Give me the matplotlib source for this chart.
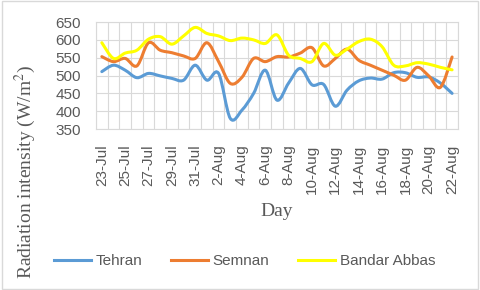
import matplotlib.pyplot as plt
import numpy as np
from matplotlib.lines import Line2D
from matplotlib.patches import PathPatch, Rectangle
from matplotlib.path import Path

days = ["23-Jul", "24-Jul", "25-Jul", "26-Jul", "27-Jul", "28-Jul", "29-Jul", "30-Jul",
        "31-Jul", "1-Aug", "2-Aug", "3-Aug", "4-Aug", "5-Aug", "6-Aug", "7-Aug",
        "8-Aug", "9-Aug", "10-Aug", "11-Aug", "12-Aug", "13-Aug", "14-Aug", "15-Aug",
        "16-Aug", "17-Aug", "18-Aug", "19-Aug", "20-Aug", "21-Aug", "22-Aug"]

tehran = [511, 529, 515, 494, 506, 499, 492, 487, 529, 487, 506, 380, 403, 450, 515, 431,
          479, 520, 474, 475, 414, 459, 485, 493, 490, 508, 508, 495, 496, 479, 450]
semnan = [553, 539, 548, 527, 592, 571, 564, 555, 548, 592, 539, 478, 495, 548, 539, 553,
          552, 563, 578, 527, 548, 574, 543, 529, 515, 501, 487, 523, 499, 467, 552]
bandar_abbas = [592, 548, 563, 571, 602, 609, 588, 611, 635, 618, 611, 598, 605, 600, 590, 614,
                557, 548, 539, 590, 557, 574, 595, 602, 581, 529, 527, 536, 532, 523, 516]

series = [("Tehran", tehran, "#5B9BD5"),
          ("Semnan", semnan, "#ED7D31"),
          ("Bandar Abbas", bandar_abbas, "#FFFF00")]

GRAY = "#595959"
GRID = "#d9d9d9"


def smooth_path(x, y):
    # Catmull-Rom through the points, written as cubic Bezier segments
    pts = np.column_stack([x, y]).astype(float)
    padded = np.vstack([pts[0], pts, pts[-1]])
    verts = [pts[0]]
    codes = [Path.MOVETO]
    for i in range(len(pts) - 1):
        p0, p1, p2, p3 = padded[i], padded[i + 1], padded[i + 2], padded[i + 3]
        verts += [p1 + (p2 - p0) / 6, p2 - (p3 - p1) / 6, p2]
        codes += [Path.CURVE4] * 3
    return Path(verts, codes)


fig = plt.figure(figsize=(4.8, 2.9), dpi=100)
ax = fig.add_axes([0.2, 0.555, 0.754, 0.369])

x = np.arange(len(days))
for name, values, color in series:
    patch = PathPatch(smooth_path(x, values), fill=False, edgecolor=color,
                      linewidth=2.2, capstyle="round", joinstyle="round", zorder=3)
    ax.add_patch(patch)

ax.set_xlim(-0.5, len(days) - 0.5)
ax.set_ylim(350, 650)
ax.set_yticks(np.arange(350, 651, 50))
ax.set_xticks(x[::2])
ax.set_xticklabels(days[::2], rotation=90)
ax.set_xticks(np.arange(-0.5, len(days), 1), minor=True)
ax.grid(True, which="minor", axis="x", color=GRID, linewidth=0.8)
ax.grid(True, which="major", axis="y", color=GRID, linewidth=0.8)
ax.set_axisbelow(True)
ax.tick_params(which="both", length=0, labelsize=11, labelcolor=GRAY)
ax.tick_params(axis="x", pad=11)
ax.tick_params(axis="y", pad=11)
for label in ax.get_xticklabels() + ax.get_yticklabels():
    label.set_fontfamily("Liberation Sans")
for spine in ax.spines.values():
    spine.set_color(GRID)
    spine.set_linewidth(0.8)

ax.set_xlabel("Day", family="Liberation Serif", fontsize=14, color=GRAY, labelpad=7)
fig.text(0.052, 0.407, "Radiation intensity (W/m$^2$)", rotation=90, ha="center", va="center",
         family="Liberation Serif", fontsize=14, color=GRAY, math_fontfamily="stix")

handles = [Line2D([], [], color=c, linewidth=2.2) for _, _, c in series]
fig.legend(handles, [s[0] for s in series], loc="center", bbox_to_anchor=(0.51, 0.1),
           ncol=3, frameon=False, handlelength=2.4, handletextpad=0.3, columnspacing=1.9,
           prop={"family": "Liberation Sans", "size": 11}, labelcolor=GRAY)

fig.patches.append(Rectangle((0.005, 0.005), 0.99, 0.99, transform=fig.transFigure,
                             fill=False, edgecolor=GRID, linewidth=1))

fig.savefig("out.png", dpi=100)
